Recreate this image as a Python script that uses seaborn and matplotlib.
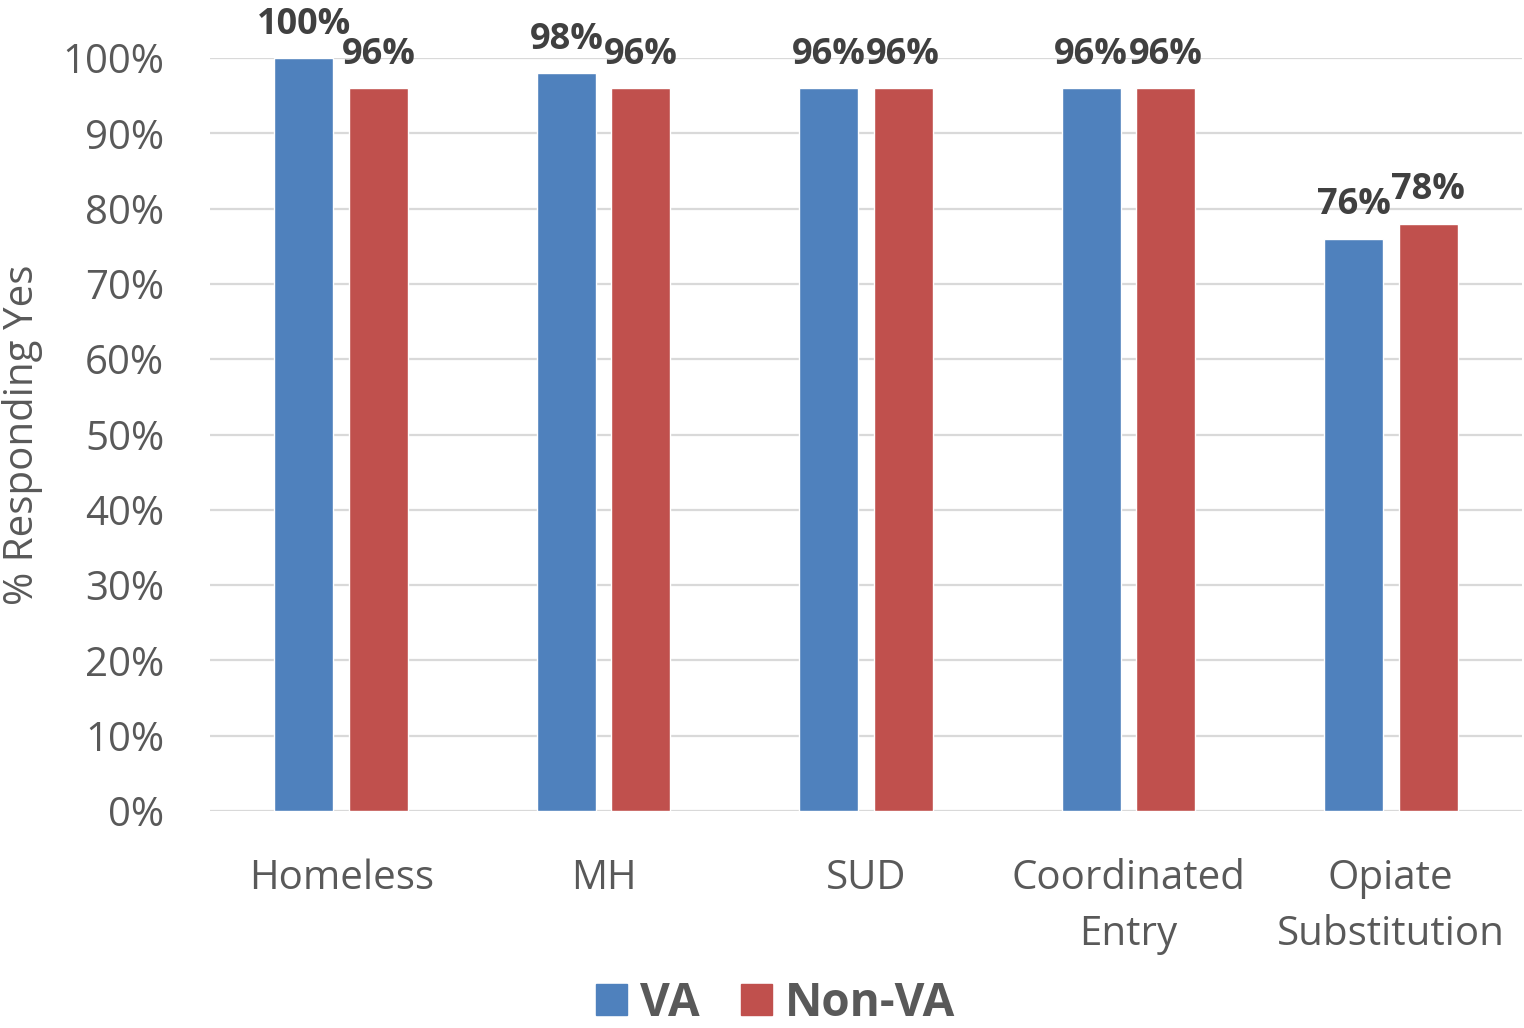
import matplotlib
matplotlib.use("Agg")
import matplotlib.pyplot as plt
import matplotlib.ticker as mticker
import seaborn as sns
import pandas as pd

# Survey results: share of programs responding "Yes", by service type
categories = ["Homeless", "MH", "SUD", "Coordinated\nEntry", "Opiate\nSubstitution"]
groups = ["VA", "Non-VA"]
va_values = [100, 98, 96, 96, 76]
non_va_values = [96, 96, 96, 96, 78]
y_ticks = list(range(0, 101, 10))

df = pd.DataFrame({
    "category": categories * 2,
    "group": [groups[0]] * len(categories) + [groups[1]] * len(categories),
    "value": va_values + non_va_values,
})

sns.set_theme(style="white")
plt.rcParams["font.family"] = ["Open Sans", "DejaVu Sans"]

TEXT = "#595959"
LABEL = "#404040"
GRID = "#d9d9d9"
palette = {"VA": "#4F81BD", "Non-VA": "#C0504D"}

fig = plt.figure(figsize=(15.24, 10.28), dpi=100)
ax = fig.add_axes([210 / 1524, 1 - 811 / 1028, (1522 - 210) / 1524, (811 - 58) / 1028])

sns.barplot(data=df, x="category", y="value", hue="group", hue_order=groups,
            order=categories, palette=palette, saturation=1,
            width=0.568, gap=0.208, ax=ax, legend=False)

ax.set_ylim(0, 100)
ax.set_xlim(-0.5, len(categories) - 0.5)
ax.set_yticks(y_ticks)
ax.yaxis.set_major_formatter(mticker.FuncFormatter(lambda v, _: f"{v:.0f}%"))
ax.grid(axis="y", color=GRID, linewidth=1.6)
ax.set_axisbelow(True)
for s in ax.spines.values():
    s.set_visible(False)

ax.tick_params(axis="y", length=0, pad=33, labelsize=29, labelcolor=TEXT)
ax.tick_params(axis="x", length=0, pad=34, labelsize=29, labelcolor=TEXT)
for t in ax.get_xticklabels():
    t.set_linespacing(1.52)

ax.set_xlabel("")
ax.set_ylabel("% Responding Yes", fontsize=29, color=TEXT)
ax.yaxis.set_label_coords(-0.127, 0.5)

for container, vals in zip(ax.containers, [va_values, non_va_values]):
    ax.bar_label(container, labels=[f"{v:.0f}%" for v in vals], padding=11,
                 fontsize=26, fontweight="bold", color=LABEL)

handles = [plt.Rectangle((0, 0), 1, 1, color=palette[g]) for g in groups]
leg = fig.legend(handles, groups, loc="center", ncol=2, frameon=False,
                 bbox_to_anchor=(776 / 1524, 1 - 1003 / 1028),
                 prop={"size": 33, "weight": "bold"},
                 handlelength=0.66, handleheight=0.66, handletextpad=0.3,
                 columnspacing=0.9)
for t in leg.get_texts():
    t.set_color(TEXT)

fig.savefig("out.png", dpi=100)
